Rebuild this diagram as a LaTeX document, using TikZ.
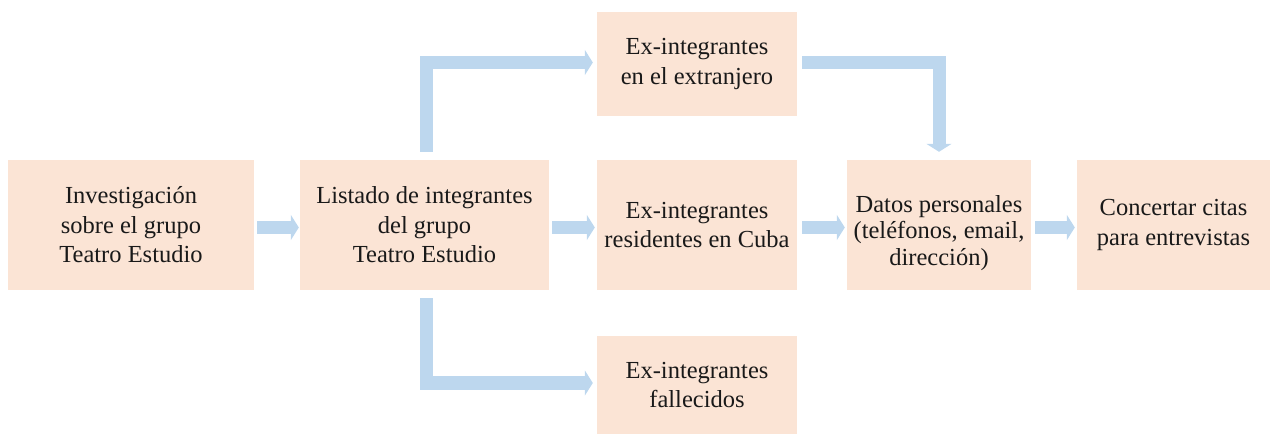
\documentclass[tikz,border=0pt]{standalone}
\usepackage{fontspec}
\setmainfont{Liberation Serif}
\usetikzlibrary{arrows.meta}
\definecolor{boxfill}{HTML}{FBE4D5}
\definecolor{arrowblue}{HTML}{BDD7EE}
\tikzset{
  box/.style={fill=boxfill, draw=none, inner sep=0pt, align=center,
    font=\fontsize{24.5pt}{29.5pt}\selectfont, text=black!90},
  boxtext/.style={inner sep=0pt, align=center,
    font=\fontsize{24.5pt}{26.5pt}\selectfont, text=black!90},
  flow/.style={draw=arrowblue, line width=13pt, line cap=butt, line join=miter,
    -{Triangle[length=8pt,width=25pt]}},
}
\begin{document}
\begin{tikzpicture}[x=1pt,y=-1pt]
\useasboundingbox (0,0) rectangle (1274,435);
\node[box, minimum width=246pt, minimum height=130pt] (b1) at (131,225)
  {Investigación\\sobre el grupo\\Teatro Estudio};
\node[box, minimum width=249pt, minimum height=130pt] (b2) at (424.5,225)
  {Listado de integrantes\\del grupo\\Teatro Estudio};
\node[box, minimum width=200pt, minimum height=104pt] (top) at (697,64)
  {Ex-integrantes\\en el extranjero};
\node[box, minimum width=200pt, minimum height=130pt] (mid) at (697,225)
  {Ex-integrantes\\residentes en Cuba};
\node[box, minimum width=200pt, minimum height=98pt] (bot) at (697,385)
  {Ex-integrantes\\fallecidos};
\node[box, minimum width=184pt, minimum height=130pt] (b4) at (939,225) {};
\node[boxtext] (b4t) at (939,233)
  {Datos personales\\(teléfonos, email,\\dirección)};
\node[box, minimum width=193pt, minimum height=130pt] (b5) at (1173.5,225)
  {Concertar citas\\para entrevistas};
\draw[flow, shorten <=3pt, shorten >=1pt] ([yshift=-2.5pt]b1.east) -- ([yshift=-2.5pt]b2.west);
\draw[flow, shorten <=3pt, shorten >=2pt] ([yshift=-2.5pt]b2.east) -- ([yshift=-2.5pt]mid.west);
\draw[flow, shorten <=5pt, shorten >=2pt] ([yshift=-2.5pt]mid.east) -- ([yshift=-2.5pt]b4.west);
\draw[flow, shorten <=4pt, shorten >=2pt] ([yshift=-2.5pt]b4.east) -- ([yshift=-2.5pt]b5.west);
\draw[flow, shorten <=8pt, shorten >=4pt] ([xshift=2pt]b2.north) |- ([yshift=1.5pt]top.west);
\draw[flow, shorten <=8pt, shorten >=4pt] ([xshift=2pt]b2.south) |- ([yshift=2pt]bot.west);
\draw[flow, shorten <=5pt, shorten >=8pt] ([yshift=1.5pt]top.east) -| (b4.north);
\end{tikzpicture}
\end{document}
